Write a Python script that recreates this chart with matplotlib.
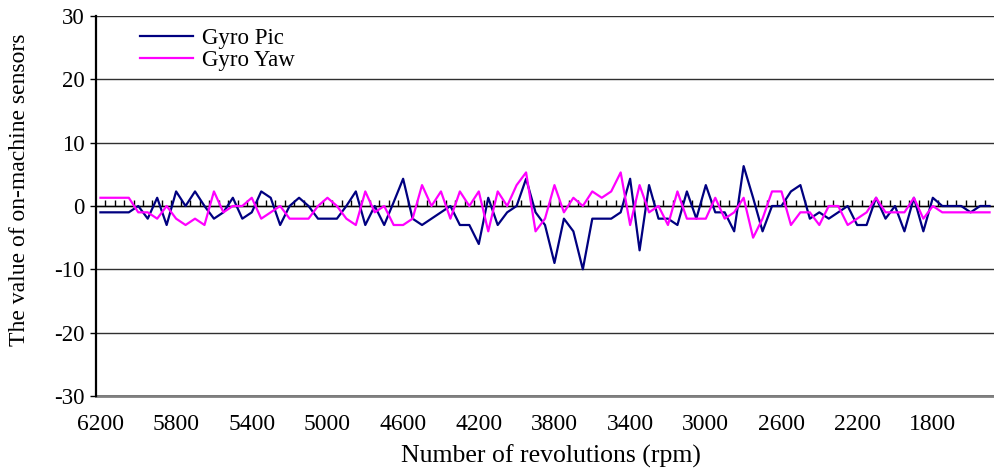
import matplotlib
matplotlib.use('Agg')
import matplotlib.pyplot as plt
import numpy as np

plt.rcParams['font.family'] = ['Liberation Serif', 'DejaVu Serif']
plt.rcParams['axes.unicode_minus'] = False

# categories: engine speed in rpm (descending), one category every 50 rpm
rpm = list(range(6200, 1450, -50))
label_every = 8

gyro_pic = [-1, -1, -1, -1, 0, -2, 1.3, -3, 2.3, 0,
            2.3, 0, -2, -1, 1.3, -2, -1, 2.3, 1.3, -3,
            0, 1.3, 0, -2, -2, -2, 0, 2.3, -3, 0,
            -3, 0.6, 4.3, -2, -3, -2, -1, 0, -3, -3,
            -6, 1.3, -3, -1, 0, 4.3, -1, -3, -9, -2,
            -4, -10, -2, -2, -2, -1, 4.3, -7, 3.3, -2,
            -2, -3, 2.3, -2, 3.3, -1, -1, -4, 6.3, 1.3,
            -4, 0, 0, 2.3, 3.3, -2, -1, -2, -1, 0,
            -3, -3, 1.3, -2, 0, -4, 1.3, -4, 1.3, 0,
            0, 0, -1, 0, 0]

gyro_yaw = [1.3, 1.3, 1.3, 1.3, -1, -1, -2, 0, -2, -3,
            -2, -3, 2.3, -1, 0, 0, 1.3, -2, -1, 0,
            -2, -2, -2, 0, 1.3, 0, -2, -3, 2.3, -1,
            0, -3, -3, -2, 3.3, 0, 2.3, -2, 2.3, 0,
            2.3, -4, 2.3, 0, 3.3, 5.3, -4, -2, 3.3, -1,
            1.3, 0, 2.3, 1.3, 2.3, 5.3, -3, 3.3, -1, 0,
            -3, 2.3, -2, -2, -2, 1.3, -2, -1, 1.3, -5,
            -2, 2.3, 2.3, -3, -1, -1, -3, 0, 0, -3,
            -2, -1, 1.3, -1, -1, -1, 1.3, -2, 0, -1,
            -1, -1, -1, -1, -1]

y_ticks = [-30, -20, -10, 0, 10, 20, 30]

W, H = 994, 468
fig = plt.figure(figsize=(W / 100, H / 100), dpi=100)
ax = fig.add_axes([95.7 / W, 72 / H, (994.3 - 95.7) / W, 380 / H])

x = np.arange(len(rpm))
ax.plot(x, gyro_pic, color='#000080', lw=1.6, label='Gyro Pic', zorder=3)
ax.plot(x, gyro_yaw, color='#FF00FF', lw=1.6, label='Gyro Yaw', zorder=3)

ax.set_xlim(-0.5, len(rpm) - 0.5)
ax.set_ylim(y_ticks[0], y_ticks[-1])

# category axis crossing at zero, tick marks between categories
ax.spines['top'].set_visible(False)
ax.spines['right'].set_visible(False)
ax.spines['bottom'].set_position(('data', 0))
ax.spines['bottom'].set_color('black')
ax.spines['bottom'].set_linewidth(1.0)
ax.spines['left'].set_color('black')
ax.spines['left'].set_linewidth(1.6)
ax.set_xticks(x[:-1] + 0.5)
ax.tick_params(axis='x', direction='in', length=4, width=1, color='black',
               labelbottom=False)

ax.set_yticks(y_ticks)
ax.set_yticklabels([str(v) for v in y_ticks])
ax.tick_params(axis='y', direction='out', length=4, width=1, color='black',
               labelsize=16.5, pad=4)
ax.yaxis.grid(True, color='#303030', lw=1.0)
ax.set_axisbelow(True)

# category labels along the bottom of the plot area
sec = ax.secondary_xaxis('bottom')
sec.set_xticks(x[::label_every])
sec.set_xticklabels([str(v) for v in rpm[::label_every]])
sec.tick_params(length=0, pad=13, labelsize=17)
sec.spines['bottom'].set_color('#808080')
sec.spines['bottom'].set_linewidth(2)

fig.text(551 / W, 1 - 456 / H, 'Number of revolutions (rpm)', ha='center',
         va='center', fontsize=18.5)
fig.text(20 / W, 1 - 190 / H, 'The value of on-machine sensors', ha='center',
         va='center', rotation=90, fontsize=17)

ax.legend(loc='upper left', bbox_to_anchor=(140 / W, 1 - 28 / H),
          bbox_transform=fig.transFigure, frameon=False, fontsize=16.5,
          handlelength=2.3, handletextpad=0.4, labelspacing=0.05,
          borderpad=0, borderaxespad=0)

fig.savefig('out.png', dpi=100)
